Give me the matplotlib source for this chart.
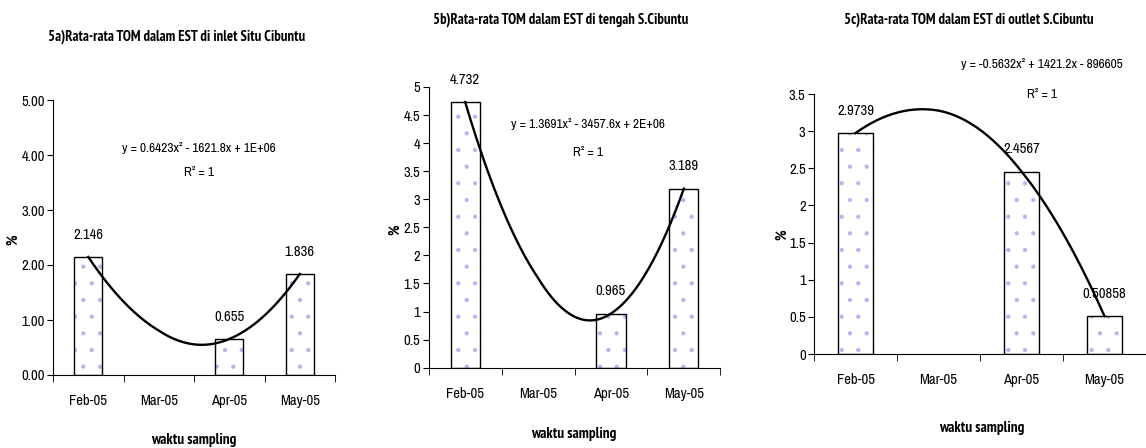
import numpy as np
import matplotlib
matplotlib.use("Agg")
import matplotlib.pyplot as plt
from matplotlib.ticker import FixedLocator, FormatStrFormatter

plt.rcParams['font.family'] = ['Archivo Narrow', 'PT Sans Narrow', 'Liberation Sans', 'DejaVu Sans']
plt.rcParams['hatch.linewidth'] = 0.6
bold_family = ['PT Sans Narrow', 'Roboto Condensed', 'Liberation Sans', 'DejaVu Sans']

# data
months = ['Feb-05', 'Mar-05', 'Apr-05', 'May-05']
month_start = np.array(['2005-02-01', '2005-03-01', '2005-04-01', '2005-05-01'], dtype='datetime64[D]')
inlet = [2.146, np.nan, 0.655, 1.836]
tengah = [4.732, np.nan, 0.965, 3.189]
outlet = [2.9739, np.nan, 2.4567, 0.50858]
labels_inlet = ['2.146', '', '0.655', '1.836']
labels_tengah = ['4.732', '', '0.965', '3.189']
labels_outlet = ['2.9739', '', '2.4567', '0.50858']

titles = ['5a)Rata-rata TOM dalam EST di inlet Situ Cibuntu',
          '5b)Rata-rata TOM dalam EST di tengah S.Cibuntu',
          '5c)Rata-rata TOM dalam EST di outlet S.Cibuntu']
equations = ['y = 0.6423x² - 1621.8x + 1E+06',
             'y = 1.3691x² - 3457.6x + 2E+06',
             'y = -0.5632x² + 1421.2x - 896605']

W, H = 1146, 448
fig = plt.figure(figsize=(W / 100, H / 100), dpi=100)

# pixel layout: left, right, top, bottom of each axes
boxes = [(53, 335, 100, 375), (428.7, 720.3, 87, 367.7), (814, 1146, 94, 354)]
ylims = [5, 5, 3.5]
ysteps = [1, 0.5, 0.5]
yfmt = ['%.2f', '%g', '%g']
bar_w = [0.4, 0.4, 0.42]
title_pos = [(177, 37), (561, 20), (969, 20)]
eq_pos = [(199, 148, 172), (588, 124, 152), (1042, 64, 94)]
xlab_pos = [(194, 440), (574, 434), (982, 428)]
ylab_pos = [(13, 240), (395, 230), (782, 235)]

series = [inlet, tengah, outlet]
lab_text = [labels_inlet, labels_tengah, labels_outlet]

def fx(px):
    return px / W

def fy(py):
    return 1 - py / H

days = (month_start - month_start[0]).astype(float)
pos = np.arange(len(months))

for i in range(3):
    l, r, t, b = boxes[i]
    ax = fig.add_axes([fx(l), fy(b), (r - l) / W, (b - t) / H])
    vals = np.array(series[i], dtype=float)
    # hatched fill then black outline
    ax.bar(pos, vals, width=bar_w[i], color='white', edgecolor='#b4b4f4',
           hatch='.', linewidth=0)
    ax.bar(pos, vals, width=bar_w[i], facecolor='none', edgecolor='black', linewidth=1.0)
    for p, v, s in zip(pos, vals, lab_text[i]):
        if s:
            ax.annotate(s, (p, v), xytext=(0, 11), textcoords='offset points',
                        ha='center', va='bottom', fontsize=10.5)

    # polynomial trendline on date values (days)
    ok = ~np.isnan(vals)
    coef = np.polyfit(days[ok], vals[ok], 2)
    dd = np.linspace(days[ok][0], days[ok][-1], 200)
    ax.plot(np.interp(dd, days, pos), np.polyval(coef, dd), color='black', lw=1.7)

    ax.set_xlim(-0.5, 3.5)
    ax.set_ylim(0, ylims[i])
    ax.set_xticks(pos)
    ax.set_xticklabels(months, fontsize=10.5)
    ax.xaxis.set_minor_locator(FixedLocator(np.arange(-0.5, 4, 1)))
    ax.tick_params(axis='x', which='major', length=0, pad=14)
    ax.tick_params(axis='x', which='minor', length=5, direction='out')
    ax.set_yticks(np.arange(0, ylims[i] + 0.001, ysteps[i]))
    ax.yaxis.set_major_formatter(FormatStrFormatter(yfmt[i]))
    ax.tick_params(axis='y', length=4, direction='out', labelsize=10.5, pad=2)
    for sp in ['top', 'right']:
        ax.spines[sp].set_visible(False)

    fig.text(fx(title_pos[i][0]), fy(title_pos[i][1]), titles[i], ha='center', va='center',
             fontsize=10.5, fontweight='bold', family=bold_family)
    fig.text(fx(eq_pos[i][0]), fy(eq_pos[i][1]), equations[i], ha='center', va='center', fontsize=9.6)
    fig.text(fx(eq_pos[i][0]), fy(eq_pos[i][2]), 'R² = 1', ha='center', va='center', fontsize=9.6)
    fig.text(fx(xlab_pos[i][0]), fy(xlab_pos[i][1]), 'waktu sampling', ha='center', va='center',
             fontsize=11, fontweight='bold', family=bold_family)
    fig.text(fx(ylab_pos[i][0]), fy(ylab_pos[i][1]), '%', ha='center', va='center',
             rotation=90, fontsize=10.5, fontweight='bold', family=bold_family)

fig.savefig('out.png', dpi=100)
